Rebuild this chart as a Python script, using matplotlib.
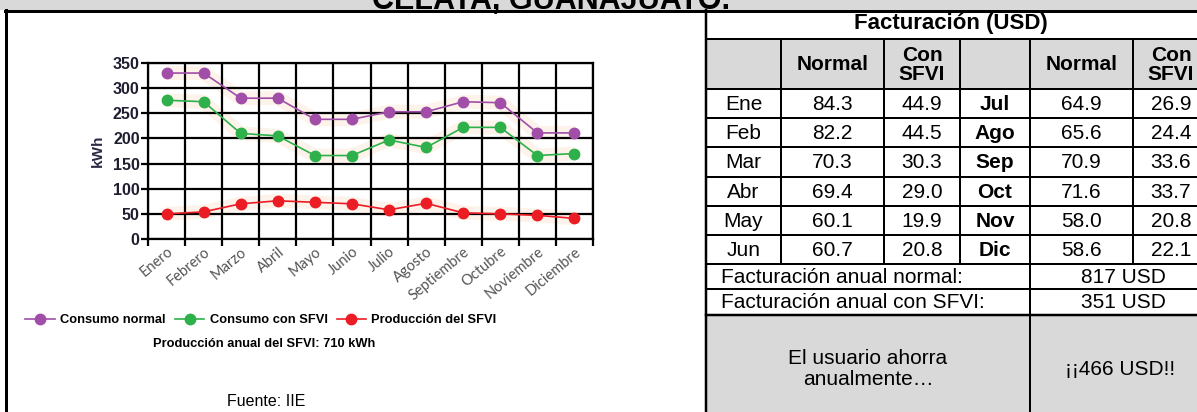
import numpy as np
import matplotlib
matplotlib.use('Agg')
import matplotlib.pyplot as plt
from matplotlib.lines import Line2D
from matplotlib.patches import Rectangle

# ---------------- data ----------------
meses = ['Enero', 'Febrero', 'Marzo', 'Abril', 'Mayo', 'Junio', 'Julio',
         'Agosto', 'Septiembre', 'Octubre', 'Noviembre', 'Diciembre']
consumo_normal = [330, 330, 280, 280, 238, 238, 253, 253, 273, 271, 211, 211]
consumo_sfvi = [276, 273, 210, 205, 166, 166, 197, 182, 222, 222, 166, 170]
produccion_sfvi = [50, 54, 70, 76, 73, 70, 58, 71, 52, 50, 47, 41]
y_ticks = [0, 50, 100, 150, 200, 250, 300, 350]
series_labels = ['Consumo normal', 'Consumo con SFVI', 'Producción del SFVI']
series_colors = ['#a14ea8', '#2eb04b', '#ec1c24']

tabla_meses_1 = ['Ene', 'Feb', 'Mar', 'Abr', 'May', 'Jun']
tabla_normal_1 = ['84.3', '82.2', '70.3', '69.4', '60.1', '60.7']
tabla_sfvi_1 = ['44.9', '44.5', '30.3', '29.0', '19.9', '20.8']
tabla_meses_2 = ['Jul', 'Ago', 'Sep', 'Oct', 'Nov', 'Dic']
tabla_normal_2 = ['64.9', '65.6', '70.9', '71.6', '58.0', '58.6']
tabla_sfvi_2 = ['26.9', '24.4', '33.6', '33.7', '20.8', '22.1']
encabezados = ['', 'Normal', 'Con\nSFVI', '', 'Normal', 'Con\nSFVI']
total_normal = '817 USD'
total_sfvi = '351 USD'
ahorro = '¡¡466 USD!!'

# ---------------- layout helpers ----------------
W, H = 1197, 412
fig = plt.figure(figsize=(W / 100, H / 100), dpi=100)
fig.patch.set_facecolor('white')


def fx(x):
    return x / W


def fy(y):
    return 1 - y / H


def line(x0, y0, x1, y1, lw=2.0):
    fig.add_artist(Line2D([fx(x0), fx(x1)], [fy(y0), fy(y1)], color='black',
                          lw=lw * 0.72, transform=fig.transFigure,
                          solid_capstyle='projecting', zorder=5))


def rect(x0, y0, x1, y1, color):
    fig.add_artist(Rectangle((fx(x0), fy(y1)), fx(x1) - fx(x0), (y1 - y0) / H,
                             transform=fig.transFigure, facecolor=color,
                             edgecolor='none', zorder=0))


def text(x, y, s, ha='center', va='center', size=15, weight='normal', **kw):
    fig.text(fx(x), fy(y), s, ha=ha, va=va, fontsize=size, fontweight=weight,
             family=kw.pop('family', ['Liberation Sans', 'DejaVu Sans']), **kw)


GRAY = '#d9d9d9'
SANS = ['Liberation Sans', 'DejaVu Sans']

# top band
rect(0, -5, W, 10, GRAY)
text(551, 9, 'CELAYA, GUANAJUATO.', va='baseline', size=22, weight='bold')
line(5, 10.5, W + 5, 10.5, lw=3)
line(6, 10, 6, H + 5, lw=3)
line(706, 10, 706, H + 5, lw=2.5)

# ---------------- right table ----------------
XL, XR = 706, 1209
col_x = [706, 781, 884, 960, 1030, 1133, XR]
y_title_bot = 39
y_head_bot = 89
row_h = (264 - 89) / 6
row_y = [y_head_bot + row_h * k for k in range(7)]
y_tot1 = 289
y_tot2 = 315

rect(XL, y_title_bot, W, y_head_bot, GRAY)
rect(XL, y_tot2, W, H + 5, GRAY)

line(XL, y_title_bot, W + 5, y_title_bot)
for yy in row_y:
    line(XL, yy, W + 5, yy)
line(XL, y_tot1, W + 5, y_tot1)
line(XL, y_tot2, W + 5, y_tot2, lw=2.5)
for cx in col_x[1:-1]:
    line(cx, y_title_bot, cx, row_y[-1])
line(1030, row_y[-1], 1030, H + 5)

text(951, 24, 'Facturación (USD)', size=16, weight='bold')
for i, h in enumerate(encabezados):
    if h:
        text((col_x[i] + col_x[i + 1]) / 2, (y_title_bot + y_head_bot) / 2 + 1, h,
             size=15, weight='bold', linespacing=1.0)

centers = [(col_x[i] + col_x[i + 1]) / 2 for i in range(6)]
for k in range(6):
    yc = (row_y[k] + row_y[k + 1]) / 2 + 1
    text(centers[0], yc, tabla_meses_1[k], size=15)
    text(centers[1], yc, tabla_normal_1[k], size=15)
    text(centers[2], yc, tabla_sfvi_1[k], size=15)
    text(centers[3], yc, tabla_meses_2[k], size=15, weight='bold')
    text(centers[4], yc, tabla_normal_2[k], size=15)
    text(centers[5], yc, tabla_sfvi_2[k], size=15)

text(721, (row_y[-1] + y_tot1) / 2 + 1, 'Facturación anual normal:', ha='left', size=15)
text((1030 + 1217) / 2, (row_y[-1] + y_tot1) / 2 + 1, total_normal, size=15)
text(721, (y_tot1 + y_tot2) / 2 + 1, 'Facturación anual con SFVI:', ha='left', size=15)
text((1030 + 1217) / 2, (y_tot1 + y_tot2) / 2 + 1, total_sfvi, size=15)
text(868, 369, 'El usuario ahorra\nanualmente…', size=15, linespacing=1.1)
text((1030 + 1210) / 2, 370, ahorro, size=15)

# ---------------- chart ----------------
ax = fig.add_axes([fx(148), fy(239), (593 - 148) / W, (239 - 63) / H])
x = np.arange(len(meses))
series = [consumo_normal, consumo_sfvi, produccion_sfvi]
for vals in series:
    ax.plot(x, vals, color='#fdf3ea', lw=10, solid_capstyle='butt', zorder=1)
handles = []
for vals, c, lab in zip(series, series_colors, series_labels):
    h, = ax.plot(x, vals, color=c, lw=1.2, marker='o', ms=7.5, zorder=4, label=lab)
    handles.append(h)

ax.set_xlim(-0.5, len(meses) - 0.5)
ax.set_ylim(0, 350)
ax.set_xticks(np.arange(-0.5, len(meses), 1.0))
ax.set_xticklabels([])
ax.set_xticks(x, minor=True)
ax.set_xticklabels(meses, minor=True, rotation=40, ha='right',
                   rotation_mode='anchor', fontsize=10.5, color='#555555',
                   family=['Lato', 'DejaVu Sans'])
ax.tick_params(axis='x', which='minor', length=0, pad=4)
ax.tick_params(axis='x', which='major', length=5, width=1.6, color='black')
ax.set_yticks(y_ticks)
ax.set_yticklabels([str(v) for v in y_ticks], fontsize=11.5, fontweight='bold',
                   color='#1e1e30', family=SANS)
ax.tick_params(axis='y', length=5, width=1.6, pad=1, color='black')
ax.grid(True, which='major', color='black', lw=1.6)
for s in ax.spines.values():
    s.set_linewidth(1.6)
    s.set_color('black')
ax.set_ylabel('kWh', fontsize=11, fontweight='bold', color='#2a2a45',
              family=SANS, labelpad=6)

fig.legend(handles=handles, loc='center', bbox_to_anchor=(fx(261), fy(320)),
           ncol=3, frameon=False, handlelength=2.3, handletextpad=0.4,
           columnspacing=0.7, borderaxespad=0,
           prop=dict(family=SANS, weight='bold', size=9.3))
text(264, 344, 'Producción anual del SFVI: 710 kWh', size=9.3, weight='bold', family=SANS)
text(266, 402, 'Fuente: IIE', size=11.5, family=SANS)

fig.savefig('out.png', dpi=100)
